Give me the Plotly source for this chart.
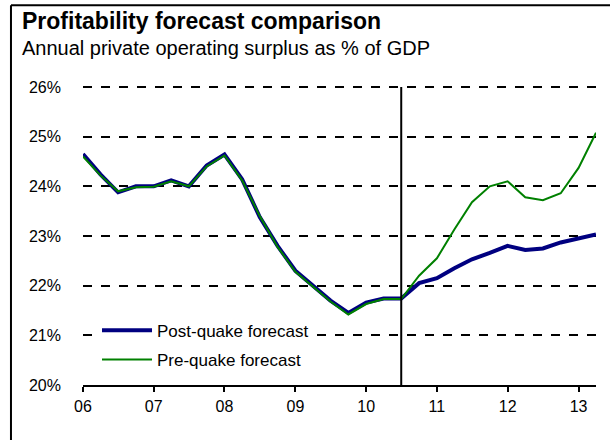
import plotly.graph_objects as go

quarters = [
    "2006-01-01", "2006-04-01", "2006-07-01", "2006-10-01",
    "2007-01-01", "2007-04-01", "2007-07-01", "2007-10-01",
    "2008-01-01", "2008-04-01", "2008-07-01", "2008-10-01",
    "2009-01-01", "2009-04-01", "2009-07-01", "2009-10-01",
    "2010-01-01", "2010-04-01", "2010-07-01", "2010-10-01",
    "2011-01-01", "2011-04-01", "2011-07-01", "2011-10-01",
    "2012-01-01", "2012-04-01", "2012-07-01", "2012-10-01",
    "2013-01-01", "2013-04-01",
]

post_quake = [
    24.65, 24.24, 23.88, 24.00, 24.00, 24.12, 24.00, 24.42,
    24.64, 24.14, 23.38, 22.80, 22.30, 22.00, 21.70, 21.45,
    21.66, 21.74, 21.74, 22.05, 22.15, 22.35, 22.53, 22.66,
    22.80, 22.72, 22.75, 22.87, 22.95, 23.03,
]

pre_quake = [
    24.60, 24.22, 23.90, 23.98, 23.99, 24.10, 24.00, 24.40,
    24.62, 24.12, 23.40, 22.78, 22.28, 21.98, 21.68, 21.42,
    21.63, 21.73, 21.73, 22.20, 22.55, 23.13, 23.68, 24.00,
    24.10, 23.78, 23.72, 23.86, 24.37, 25.08,
]

quake_marker = "2010-07-01"
x_range = ["2006-01-01", "2013-04-01"]
y_range = [20, 26.06]

FONT = "Liberation Sans, Arial, sans-serif"

fig = go.Figure()
fig.add_trace(go.Scatter(
    x=quarters, y=post_quake, mode="lines", name="Post-quake forecast",
    line=dict(color="#000080", width=4), legendgroup="a",
))
fig.add_trace(go.Scatter(
    x=quarters, y=pre_quake, mode="lines", name="Pre-quake forecast",
    line=dict(color="#008000", width=2), legendgroup="b",
))

fig.add_shape(type="line", xref="x", yref="y", x0=quake_marker, x1=quake_marker,
              y0=20, y1=26, line=dict(color="black", width=2))

# frame (left and top edges); paper y: (385 - px) / 301
fig.add_shape(type="line", xref="paper", yref="paper", x0=-0.1404, x1=-0.1404,
              y0=-0.3, y1=1.262, line=dict(color="black", width=2))
fig.add_shape(type="line", xref="paper", yref="paper", x0=-0.1404, x1=1.2,
              y0=1.262, y1=1.262, line=dict(color="black", width=2))

fig.add_annotation(text="<b>Profitability forecast comparison</b>", xref="paper", yref="paper",
                   x=-0.1229, y=1.209, xanchor="left", yanchor="middle", showarrow=False,
                   font=dict(family=FONT, size=23, color="black"))
fig.add_annotation(text="Annual private operating surplus as % of GDP", xref="paper", yref="paper",
                   x=-0.1229, y=1.120, xanchor="left", yanchor="middle", showarrow=False,
                   font=dict(family=FONT, size=20, color="black"))

fig.update_layout(
    width=610, height=440,
    margin=dict(l=83, r=14, t=84, b=55),
    paper_bgcolor="white", plot_bgcolor="white",
    font=dict(family=FONT, size=16, color="black"),
    showlegend=True,
    legend=dict(x=0.0273, y=0.24, xanchor="left", yanchor="top", bgcolor="white",
                font=dict(family=FONT, size=17, color="black"),
                tracegroupgap=4, itemwidth=50, traceorder="grouped"),
    xaxis=dict(type="date", range=x_range, dtick="M12", tick0="2006-01-01", tickformat="%y",
               showgrid=False, showline=True, linecolor="black", linewidth=2,
               ticks="outside", ticklen=5, tickwidth=2, tickcolor="black",
               tickfont=dict(family=FONT, size=16), zeroline=False, ticklabelstandoff=1),
    yaxis=dict(range=y_range, dtick=1, tick0=20, ticksuffix="%", showgrid=True, gridcolor="black",
               gridwidth=1.5, griddash="dash", showline=False, ticks="",
               tickfont=dict(family=FONT, size=16), zeroline=False, ticklabelstandoff=21),
)

fig.write_html("out.html")
